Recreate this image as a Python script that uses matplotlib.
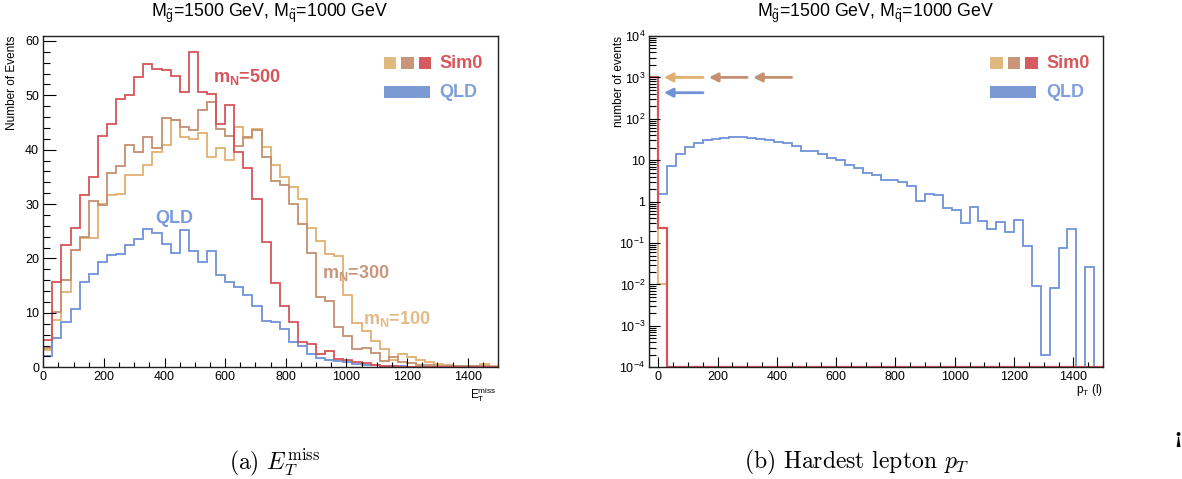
import numpy as np
import matplotlib.pyplot as plt
from matplotlib.patches import Rectangle
from matplotlib.ticker import MultipleLocator, LogLocator, FixedLocator, FixedFormatter, NullFormatter

plt.rcParams['font.family'] = ['Liberation Sans', 'DejaVu Sans']
plt.rcParams['mathtext.fontset'] = 'custom'
plt.rcParams['mathtext.rm'] = 'Liberation Sans'
plt.rcParams['mathtext.it'] = 'Liberation Sans:italic'
plt.rcParams['mathtext.bf'] = 'Liberation Sans:bold'

# ---- left panel: missing ET, 50 bins of 30 GeV ----
met_edges = np.arange(0, 1501, 30)
met_m500 = [5.0, 15.6, 22.5, 25.6, 31.6, 35.0, 42.6, 44.7, 49.4, 50.0,
            53.4, 55.7, 54.8, 54.6, 53.6, 50.6, 58.0, 50.6, 50.2, 44.7,
            48.2, 39.5, 36.6, 30.9, 23.1, 15.5, 11.3, 8.4, 4.7, 4.3,
            2.5, 3.0, 1.6, 1.3, 1.0, 0.7, 0.4, 0.25, 0.15, 0.1,
            0.1, 0.05, 0.05, 0, 0, 0, 0, 0, 0, 0]
met_m300 = [3.5, 10.2, 16.1, 21.6, 23.9, 30.6, 29.8, 35.8, 37.0, 40.9,
            39.6, 42.4, 40.4, 45.8, 45.5, 44.1, 43.7, 47.3, 48.8, 43.8,
            42.6, 40.7, 42.3, 43.7, 38.7, 34.2, 33.6, 30.0, 26.4, 21.0,
            12.9, 12.1, 7.4, 5.8, 3.3, 3.5, 2.7, 1.2, 1.9, 1.0,
            0.7, 0.5, 0.4, 0.3, 0.25, 0.2, 0.2, 0.15, 0.2, 0.1]
met_m100 = [3.2, 8.7, 13.9, 21.6, 23.7, 23.7, 30.0, 31.6, 31.8, 35.4,
            35.4, 37.2, 39.6, 40.9, 45.5, 42.4, 42.0, 43.0, 38.6, 40.3,
            38.1, 44.2, 42.2, 43.8, 40.5, 37.2, 35.0, 33.1, 31.0, 25.6,
            23.2, 20.8, 20.5, 13.2, 8.1, 6.7, 4.9, 3.3, 1.4, 2.5,
            1.9, 1.3, 0.9, 0.6, 0.4, 0.3, 0.25, 0.3, 0.55, 0.3]
met_qld = [2.0, 5.3, 8.3, 10.7, 15.6, 17.1, 19.3, 20.6, 20.8, 22.5,
           23.6, 25.5, 24.6, 22.7, 21.1, 25.2, 21.3, 19.3, 21.4, 17.0,
           15.7, 14.7, 13.3, 11.3, 8.5, 8.4, 7.0, 4.7, 3.9, 2.5,
           1.7, 1.3, 1.1, 0.9, 0.6, 0.5, 0.35, 0.25, 0.2, 0.15,
           0.1, 0.1, 0.1, 0.05, 0.05, 0.05, 0, 0, 0, 0]

# ---- right panel: hardest lepton pT (Sim0 has its events in the underflow-like first bin) ----
pt_edges_sim = np.arange(-30, 1501, 30)
pt_m500 = [1000, 0.23, 0, 0, 0, 0, 0, 0, 0, 0, 0, 0, 0, 0, 0, 0, 0,
           0, 0, 0, 0, 0, 0, 0, 0, 0, 0, 0, 0, 0, 0, 0, 0, 0,
           0, 0, 0, 0, 0, 0, 0, 0, 0, 0, 0, 0, 0, 0, 0, 0, 0]
pt_m300 = [1000, 0.23, 0, 0, 0, 0, 0, 0, 0, 0, 0, 0, 0, 0, 0, 0, 0,
           0, 0, 0, 0, 0, 0, 0, 0, 0, 0, 0, 0, 0, 0, 0, 0, 0,
           0, 0, 0, 0, 0, 0, 0, 0, 0, 0, 0, 0, 0, 0, 0, 0, 0]
pt_m100 = [1000, 0.01, 0, 0, 0, 0, 0, 0, 0, 0, 0, 0, 0, 0, 0, 0, 0,
           0, 0, 0, 0, 0, 0, 0, 0, 0, 0, 0, 0, 0, 0, 0, 0, 0,
           0, 0, 0, 0, 0, 0, 0, 0, 0, 0, 0, 0, 0, 0, 0, 0, 0]
pt_edges_qld = np.arange(0, 1501, 30)
pt_qld = [1.5, 7.2, 14, 21, 26.5, 30, 32.7, 35, 36.3, 36.3,
          34, 32.2, 30, 27.2, 25.5, 22, 17, 17, 14, 11.2,
          10.3, 7.8, 6.5, 5.0, 4.5, 3.4, 3.4, 3.0, 2.4, 1.05,
          1.55, 1.45, 0.69, 0.62, 0.30, 0.73, 0.34, 0.22, 0.32, 0.18,
          0.36, 0.085, 0.0093, 0.0002, 0.008, 0.075, 0.22, 0, 0.027, 0]

# arrows in the right panel: (tail pT, head pT, level)
arrows = [(151, 19, 1000, 'tan'), (300, 171, 1000, 'brown'),
          (450, 320, 1000, 'brown'), (151, 19, 427, 'blue')]

c_red = '#d6545a'
c_brown = '#c4906f'
c_tan = '#e0b070'
c_blue = '#6f92d8'
cols = {'red': c_red, 'brown': c_brown, 'tan': c_tan, 'blue': c_blue}

W, H = 1182, 479
fig = plt.figure(figsize=(W / 100, H / 100), dpi=100)


def fx(px):
    return px / W


def fy(py):
    return 1 - py / H


ax1 = fig.add_axes([fx(43.3), fy(367.3), (498 - 43.3) / W, (367.3 - 36) / H])
ax2 = fig.add_axes([fx(649.3), fy(367.3), (1103 - 649.3) / W, (367.3 - 36) / H])

# left histograms
lw = 1.3
ax1.stairs(met_m100, met_edges, color=c_tan, lw=lw)
ax1.stairs(met_m300, met_edges, color=c_brown, lw=lw)
ax1.stairs(met_qld, met_edges, color=c_blue, lw=lw)
ax1.stairs(met_m500, met_edges, color=c_red, lw=lw)
ax1.set_xlim(0, 1500)
ax1.set_ylim(0, 60.9)
ax1.xaxis.set_major_locator(MultipleLocator(200))
ax1.xaxis.set_minor_locator(MultipleLocator(50))
ax1.yaxis.set_major_locator(MultipleLocator(10))
ax1.yaxis.set_minor_locator(MultipleLocator(2))
ax1.tick_params(axis='both', which='both', direction='in', top=False, right=False,
                labelsize=9, width=0.8, pad=3)
ax1.tick_params(axis='y', which='major', length=9.5)
ax1.tick_params(axis='y', which='minor', length=5)
ax1.tick_params(axis='x', which='major', length=6.5)
ax1.tick_params(axis='x', which='minor', length=3.4)

ax1.text(560, 52.4, r'm$_{\mathbf{N}}$=500', color=c_red, fontsize=13, fontweight='bold')
ax1.text(368, 26.5, 'QLD', color='#7b9be0', fontsize=13, fontweight='bold')
ax1.text(918, 16.4, r'm$_{\mathbf{N}}$=300', color='#c8967a', fontsize=13, fontweight='bold')
ax1.text(1056, 7.9, r'm$_{\mathbf{N}}$=100', color='#e2bc84', fontsize=13, fontweight='bold')

# right histograms
floor = 1e-4
ax2.set_yscale('log')
ax2.stairs(np.clip(pt_qld, floor, None), pt_edges_qld, color=c_blue, lw=lw, baseline=None)
ax2.stairs(np.clip(pt_m100, floor, None), pt_edges_sim, color=c_tan, lw=lw, baseline=floor)
ax2.stairs(np.clip(pt_m300, floor, None), pt_edges_sim, color=c_brown, lw=lw, baseline=floor)
ax2.stairs(np.clip(pt_m500, floor, None), pt_edges_sim, color=c_red, lw=1.6, baseline=floor)
ax2.set_xlim(-30, 1500)
ax2.set_ylim(1e-4, 1e4)
ax2.xaxis.set_major_locator(MultipleLocator(200))
ax2.xaxis.set_minor_locator(MultipleLocator(50))
ydec = [1e-4, 1e-3, 1e-2, 1e-1, 1, 10, 1e2, 1e3, 1e4]
ylab = [r'$10^{-4}$', r'$10^{-3}$', r'$10^{-2}$', r'$10^{-1}$', '1', '10',
        r'$10^{2}$', r'$10^{3}$', r'$10^{4}$']
ax2.yaxis.set_major_locator(FixedLocator(ydec))
ax2.yaxis.set_major_formatter(FixedFormatter(ylab))
ax2.yaxis.set_minor_locator(LogLocator(base=10, subs=np.arange(2, 10), numticks=30))
ax2.yaxis.set_minor_formatter(NullFormatter())
ax2.tick_params(axis='both', which='both', direction='in', top=False, right=False,
                labelsize=9, width=0.8, pad=3)
ax2.tick_params(axis='y', which='major', length=8)
ax2.tick_params(axis='y', which='minor', length=5)
ax2.tick_params(axis='x', which='major', length=7)
ax2.tick_params(axis='x', which='minor', length=3.5)

for tail, head, lev, c in arrows:
    ax2.annotate('', xy=(head, lev), xytext=(tail, lev),
                 arrowprops=dict(arrowstyle='-|>', color=cols[c], lw=2,
                                 mutation_scale=13, shrinkA=0, shrinkB=0))

for ax in (ax1, ax2):
    for s in ax.spines.values():
        s.set_linewidth(1.0)
        s.set_color('#222222')

# titles and axis labels
title = r'M$_{\tilde{\rm g}}$=1500 GeV, M$_{\tilde{\rm q}}$=1000 GeV'
fig.text(fx(270), fy(17), title, ha='center', va='baseline', fontsize=12.8)
fig.text(fx(876), fy(17), title, ha='center', va='baseline', fontsize=12.8)
fig.text(fx(12), fy(36), 'Number of Events', rotation=90, ha='center', va='top', fontsize=8.5)
fig.text(fx(619), fy(36), 'number of events', rotation=90, ha='center', va='top', fontsize=8.5)
fig.text(fx(497), fy(398), r'E$_{\rm T}^{\rm miss}$', ha='right', va='baseline', fontsize=8.5)
fig.text(fx(1103), fy(393), r'p$_{\rm T}$ (l)', ha='right', va='baseline', fontsize=8.5)

# legends drawn as boxes + text
def legend(x0, sim_col, qld_col):
    for i, c in enumerate(['#dfb97f', '#c9967a', '#d65b60']):
        fig.add_artist(Rectangle((fx(x0 + 17.5 * i), fy(69)), 12.5 / W, 12 / H,
                                 transform=fig.transFigure, color=c, lw=0))
    fig.add_artist(Rectangle((fx(x0), fy(98)), 46 / W, 12 / H,
                             transform=fig.transFigure, color='#7b9ad4', lw=0))
    fig.text(fx(x0 + 56), fy(68), 'Sim0', color=sim_col, fontsize=13,
             fontweight='bold', va='baseline')
    fig.text(fx(x0 + 56), fy(97), 'QLD', color=qld_col, fontsize=13,
             fontweight='bold', va='baseline')


legend(383.5, '#d9575c', '#7f9fdc')
legend(990, '#d9575c', '#7f9fdc')

# sub-figure captions
fig.text(fx(275), fy(462), r'(a) $E_T^{\rm miss}$', ha='center', va='center',
         fontsize=17, family='cmr10', math_fontfamily='cm')
fig.text(fx(857), fy(462), r'(b) Hardest lepton $p_T$', ha='center', va='center',
         fontsize=17, family='cmr10', math_fontfamily='cm')
fig.text(fx(1178), fy(437), '¡', ha='center', va='center', fontsize=15,
         family='DejaVu Serif', fontweight='bold')

fig.savefig('out.png', dpi=100)
